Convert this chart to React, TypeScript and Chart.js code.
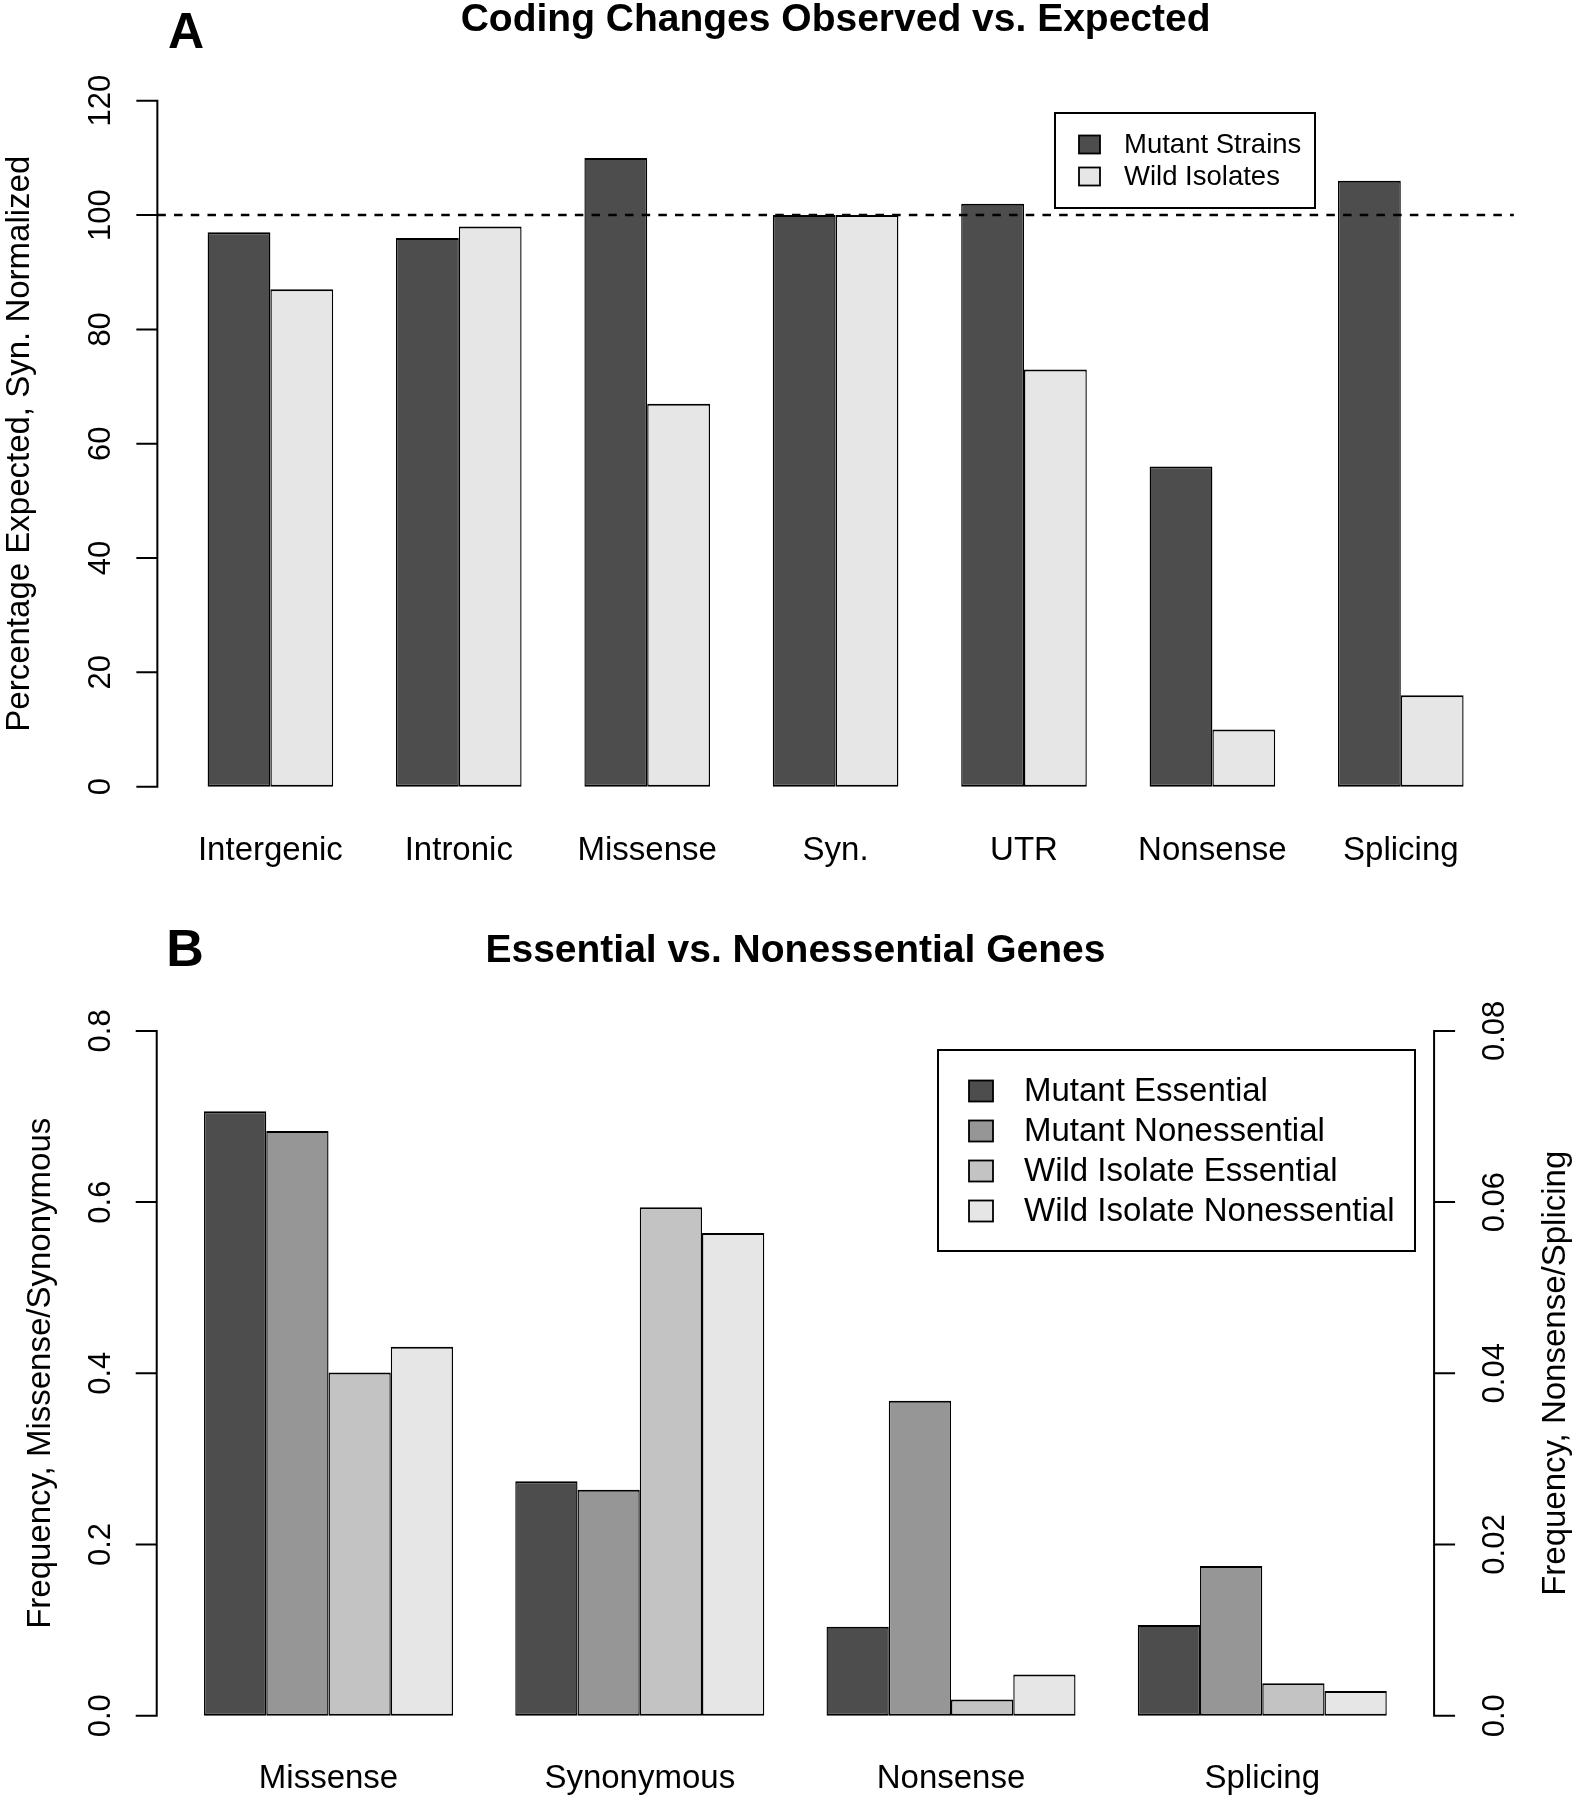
import React, { useEffect, useRef } from "react";
import { Chart, registerables } from "chart.js";

Chart.register(...registerables);

// ---------------- Data: panel A ----------------
const categoriesA = ["Intergenic", "Intronic", "Missense", "Syn.", "UTR", "Nonsense", "Splicing"];
const mutantStrains = [97, 96, 110, 100, 102, 56, 106];
const wildIsolates = [87, 98, 67, 100, 73, 10, 16];
const seriesLabelsA = ["Mutant Strains", "Wild Isolates"];
const yTicksA = [0, 20, 40, 60, 80, 100, 120];
const expectedLevelA = 100;
const titleA = "Coding Changes Observed vs. Expected";
const yTitleA = "Percentage Expected, Syn. Normalized";

// ---------------- Data: panel B ----------------
const categoriesB = ["Missense", "Synonymous", "Nonsense", "Splicing"];
const categoryAxisB = ["left", "left", "right", "right"];
const mutantEssential = [0.706, 0.274, 0.0104, 0.0106];
const mutantNonessential = [0.683, 0.264, 0.0368, 0.0175];
const wildIsolateEssential = [0.401, 0.594, 0.0019, 0.0038];
const wildIsolateNonessential = [0.431, 0.564, 0.0048, 0.0029];
const seriesLabelsB = ["Mutant Essential", "Mutant Nonessential", "Wild Isolate Essential", "Wild Isolate Nonessential"];
const yTicksLeftB = [0, 0.2, 0.4, 0.6, 0.8];
const yTickLabelsLeftB = ["0.0", "0.2", "0.4", "0.6", "0.8"];
const yTicksRightB = [0, 0.02, 0.04, 0.06, 0.08];
const yTickLabelsRightB = ["0.0", "0.02", "0.04", "0.06", "0.08"];
const titleB = "Essential vs. Nonessential Genes";
const yTitleLeftB = "Frequency, Missense/Synonymous";
const yTitleRightB = "Frequency, Nonsense/Splicing";

// ---------------- Styles ----------------
const FONT = '"Liberation Sans", Arial, Helvetica, sans-serif';
const colorsA = ["#4D4D4D", "#E6E6E6"];
const colorsB = ["#4D4D4D", "#969696", "#C3C3C3", "#E6E6E6"];
const W = 1578;
const HA = 900;
const HB = 900;

function rotText(ctx: CanvasRenderingContext2D, text: string, x: number, y: number, font: string) {
  ctx.save();
  ctx.translate(x, y);
  ctx.rotate(-Math.PI / 2);
  ctx.font = font;
  ctx.textAlign = "center";
  ctx.textBaseline = "alphabetic";
  ctx.fillStyle = "#000";
  ctx.fillText(text, 0, 0);
  ctx.restore();
}

function drawLegend(
  ctx: CanvasRenderingContext2D,
  box: { x: number; y: number; w: number; h: number },
  labels: string[],
  colors: string[],
  sw: { x: number; w: number; h: number },
  textX: number,
  firstCenter: number,
  pitch: number,
  fontSize: number
) {
  ctx.save();
  ctx.fillStyle = "#fff";
  ctx.fillRect(box.x, box.y, box.w, box.h);
  ctx.strokeStyle = "#000";
  ctx.lineWidth = 2;
  ctx.strokeRect(box.x, box.y, box.w, box.h);
  ctx.font = `${fontSize}px ${FONT}`;
  ctx.textAlign = "left";
  ctx.textBaseline = "middle";
  labels.forEach((lab, i) => {
    const cy = firstCenter + i * pitch;
    ctx.fillStyle = colors[i];
    ctx.fillRect(sw.x, cy - sw.h / 2, sw.w, sw.h);
    ctx.lineWidth = 1.8;
    ctx.strokeRect(sw.x, cy - sw.h / 2, sw.w, sw.h);
    ctx.fillStyle = "#000";
    ctx.fillText(lab, textX, cy + 1);
  });
  ctx.restore();
}

const whiteBg = {
  id: "whiteBg",
  beforeDraw(chart: any) {
    const { ctx, width, height } = chart;
    ctx.save();
    ctx.fillStyle = "#fff";
    ctx.fillRect(0, 0, width, height);
    ctx.restore();
  },
};

const panelAPlugin = {
  id: "panelA",
  afterDatasetsDraw(chart: any) {
    const { ctx, chartArea, scales } = chart;
    const unit = (chartArea.right - chartArea.left) / 21;
    const regL = chartArea.left - 0.3 * unit;
    const regR = chartArea.right + 0.3 * unit;
    const py = scales.y.getPixelForValue(expectedLevelA);
    ctx.save();
    ctx.strokeStyle = "#000";
    ctx.lineWidth = 2.4;
    ctx.setLineDash([8.5, 8.2]);
    ctx.beginPath();
    ctx.moveTo(regL, py);
    ctx.lineTo(regR, py);
    ctx.stroke();
    ctx.restore();
  },
  afterDraw(chart: any) {
    const { ctx, chartArea, scales } = chart;
    const xs = scales.x;
    const ys = scales.y;
    const unit = (chartArea.right - chartArea.left) / 21;
    const regL = chartArea.left - 0.3 * unit;
    const regR = chartArea.right + 0.3 * unit;
    ctx.save();
    ctx.strokeStyle = "#000";
    ctx.lineWidth = 2;
    ctx.lineCap = "square";
    // y axis
    const y0 = ys.getPixelForValue(yTicksA[0]);
    const y1 = ys.getPixelForValue(yTicksA[yTicksA.length - 1]);
    ctx.beginPath();
    ctx.moveTo(regL, y0);
    ctx.lineTo(regL, y1);
    yTicksA.forEach((t) => {
      const p = ys.getPixelForValue(t);
      ctx.moveTo(regL, p);
      ctx.lineTo(regL - 20, p);
    });
    ctx.stroke();
    yTicksA.forEach((t) => {
      rotText(ctx, String(t), regL - 47, ys.getPixelForValue(t), `31px ${FONT}`);
    });
    // y title
    rotText(ctx, yTitleA, 29, (chartArea.top + chartArea.bottom) / 2, `33px ${FONT}`);
    // category labels
    ctx.fillStyle = "#000";
    ctx.font = `33px ${FONT}`;
    ctx.textAlign = "center";
    ctx.textBaseline = "alphabetic";
    categoriesA.forEach((c, i) => {
      ctx.fillText(c, xs.getPixelForValue(i), 860);
    });
    // title
    ctx.font = `bold 39px ${FONT}`;
    ctx.fillText(titleA, (regL + regR) / 2, 31);
    // panel letter
    ctx.font = `bold 50px ${FONT}`;
    ctx.fillText("A", 186, 48);
    ctx.restore();
    // legend
    drawLegend(
      ctx,
      { x: 1055, y: 113, w: 260, h: 95 },
      seriesLabelsA,
      colorsA,
      { x: 1079, w: 21, h: 18 },
      1124,
      144.5,
      32,
      27.5
    );
  },
};

const panelBPlugin = {
  id: "panelB",
  afterDraw(chart: any) {
    const { ctx, chartArea, scales } = chart;
    const xs = scales.x;
    const ys = scales.y;
    const y2 = scales.y2;
    const unit = (chartArea.right - chartArea.left) / 20;
    const regL = chartArea.left - 0.26 * unit;
    const regR = chartArea.right + 0.26 * unit;
    ctx.save();
    ctx.strokeStyle = "#000";
    ctx.lineWidth = 2;
    ctx.lineCap = "square";
    // left axis
    ctx.beginPath();
    ctx.moveTo(regL, ys.getPixelForValue(yTicksLeftB[0]));
    ctx.lineTo(regL, ys.getPixelForValue(yTicksLeftB[yTicksLeftB.length - 1]));
    yTicksLeftB.forEach((t) => {
      const p = ys.getPixelForValue(t);
      ctx.moveTo(regL, p);
      ctx.lineTo(regL - 20, p);
    });
    // right axis
    ctx.moveTo(regR, y2.getPixelForValue(yTicksRightB[0]));
    ctx.lineTo(regR, y2.getPixelForValue(yTicksRightB[yTicksRightB.length - 1]));
    yTicksRightB.forEach((t) => {
      const p = y2.getPixelForValue(t);
      ctx.moveTo(regR, p);
      ctx.lineTo(regR + 20, p);
    });
    ctx.stroke();
    yTicksLeftB.forEach((t, i) => {
      rotText(ctx, yTickLabelsLeftB[i], regL - 47, ys.getPixelForValue(t), `31px ${FONT}`);
    });
    yTicksRightB.forEach((t, i) => {
      rotText(ctx, yTickLabelsRightB[i], regR + 70, y2.getPixelForValue(t), `31px ${FONT}`);
    });
    const cy = (chartArea.top + chartArea.bottom) / 2;
    rotText(ctx, yTitleLeftB, 50, cy, `33px ${FONT}`);
    rotText(ctx, yTitleRightB, 1565, cy, `33px ${FONT}`);
    // category labels
    ctx.fillStyle = "#000";
    ctx.font = `33px ${FONT}`;
    ctx.textAlign = "center";
    ctx.textBaseline = "alphabetic";
    categoriesB.forEach((c, i) => {
      ctx.fillText(c, xs.getPixelForValue(i), 888);
    });
    ctx.font = `bold 39px ${FONT}`;
    ctx.fillText(titleB, (regL + regR) / 2, 62);
    ctx.font = `bold 52px ${FONT}`;
    ctx.fillText("B", 185, 66);
    ctx.restore();
    drawLegend(
      ctx,
      { x: 938, y: 150, w: 477, h: 201 },
      seriesLabelsB,
      colorsB,
      { x: 969, w: 24, h: 21 },
      1024,
      191,
      40,
      33
    );
  },
};

export default function App() {
  const refA = useRef<HTMLCanvasElement | null>(null);
  const refB = useRef<HTMLCanvasElement | null>(null);

  useEffect(() => {
    const barStyle = {
      borderColor: "#000",
      borderWidth: { top: 2, bottom: 2, left: 1.4, right: 1.4 },
      borderSkipped: false as const,
    };
    const ext = 0.04 * (yTicksA[yTicksA.length - 1] - yTicksA[0]);
    const chartA = new Chart(refA.current as HTMLCanvasElement, {
      type: "bar",
      data: {
        labels: categoriesA,
        datasets: [
          { label: seriesLabelsA[0], data: mutantStrains, backgroundColor: colorsA[0], ...barStyle },
          { label: seriesLabelsA[1], data: wildIsolates, backgroundColor: colorsA[1], ...barStyle },
        ],
      },
      options: {
        responsive: false,
        animation: false,
        devicePixelRatio: 1,
        layout: { padding: { left: 176.2, right: 83, top: 73.3, bottom: 85.9 } },
        datasets: { bar: { categoryPercentage: 2 / 3, barPercentage: 1 } },
        scales: {
          x: { display: false, offset: true },
          y: { display: false, min: yTicksA[0] - ext, max: yTicksA[yTicksA.length - 1] + ext },
        },
        plugins: { legend: { display: false }, tooltip: { enabled: false }, title: { display: false } },
      } as any,
      plugins: [whiteBg, panelAPlugin],
    });

    const seriesB = [mutantEssential, mutantNonessential, wildIsolateEssential, wildIsolateNonessential];
    const extL = 0.04 * (yTicksLeftB[yTicksLeftB.length - 1] - yTicksLeftB[0]);
    const extR = 0.04 * (yTicksRightB[yTicksRightB.length - 1] - yTicksRightB[0]);
    const chartB = new Chart(refB.current as HTMLCanvasElement, {
      type: "bar",
      data: {
        labels: categoriesB,
        datasets: [
          ...seriesB.map((s, k) => ({
            label: seriesLabelsB[k],
            yAxisID: "y",
            data: s.map((v, i) => (categoryAxisB[i] === "left" ? v : null)),
            backgroundColor: colorsB[k],
            ...barStyle,
          })),
          ...seriesB.map((s, k) => ({
            label: seriesLabelsB[k],
            yAxisID: "y2",
            data: s.map((v, i) => (categoryAxisB[i] === "right" ? v : null)),
            backgroundColor: colorsB[k],
            ...barStyle,
          })),
        ],
      },
      options: {
        responsive: false,
        animation: false,
        devicePixelRatio: 1,
        layout: { padding: { left: 172.9, right: 160.1, top: 103.5, bottom: 56.9 } },
        datasets: { bar: { categoryPercentage: 0.8, barPercentage: 1, skipNull: true } },
        scales: {
          x: { display: false, offset: true },
          y: { display: false, min: yTicksLeftB[0] - extL, max: yTicksLeftB[yTicksLeftB.length - 1] + extL },
          y2: {
            display: false,
            position: "right",
            min: yTicksRightB[0] - extR,
            max: yTicksRightB[yTicksRightB.length - 1] + extR,
          },
        },
        plugins: { legend: { display: false }, tooltip: { enabled: false }, title: { display: false } },
      } as any,
      plugins: [whiteBg, panelBPlugin],
    });

    return () => {
      chartA.destroy();
      chartB.destroy();
    };
  }, []);

  return (
    <div style={{ position: "absolute", left: 0, top: 0, width: W, height: HA + HB, background: "#fff" }}>
      <canvas ref={refA} width={W} height={HA} style={{ display: "block", width: W, height: HA }} />
      <canvas ref={refB} width={W} height={HB} style={{ display: "block", width: W, height: HB }} />
    </div>
  );
}
